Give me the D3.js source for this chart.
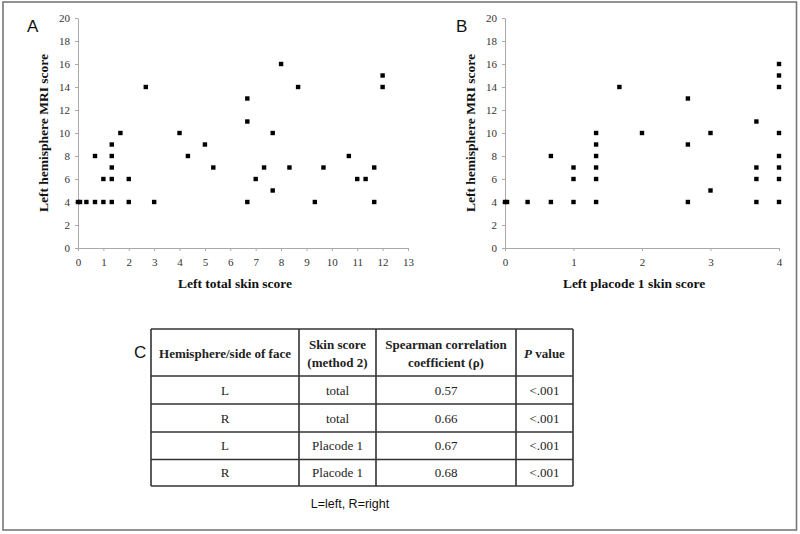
<!DOCTYPE html>
<html>
<head>
<meta charset="utf-8" />
<title>Skin score vs MRI score</title>
<script src="https://cdn.jsdelivr.net/npm/d3@7"></script>
<style>
    body { margin: 0; background: #fff; }
    svg { display: block; }
    .axis path, .axis line { stroke: #aaa; }
    .ttl { font-family: "Liberation Serif", serif; font-weight: bold; font-size: 13.5px; fill: #111; }
    .panel { font-family: "Liberation Sans", sans-serif; font-size: 17px; fill: #111; }
    .cell { font-family: "Liberation Serif", serif; font-size: 13px; fill: #222; }
</style>
</head>
<body>
<script>
    // panel A: left total skin score vs left hemisphere MRI score
    var totalX = [0, 0.08, 0.33, 0.67, 0.67, 1, 1, 1.33, 1.33, 1.33, 1.33, 1.33, 1.67, 2, 2, 2.67, 3,
        4, 4.33, 5, 5.33, 6.67, 6.67, 6.67, 7, 7.33, 7.67, 7.67, 8, 8.33, 8.67, 9.33, 9.67,
        10.67, 11, 11.33, 11.67, 11.67, 12, 12]
    var totalY = [4, 4, 4, 8, 4, 6, 4, 9, 8, 7, 6, 4, 10, 6, 4, 14, 4,
        10, 8, 9, 7, 13, 11, 4, 6, 7, 10, 5, 16, 7, 14, 4, 7,
        8, 6, 6, 7, 4, 15, 14]
    // panel B: left placode 1 skin score vs left hemisphere MRI score
    var placodeX = [0, 0.03, 0.33, 0.67, 0.67, 1, 1, 1, 1.33, 1.33, 1.33, 1.33, 1.33, 1.33,
        1.67, 2, 2.67, 2.67, 2.67, 3, 3, 3.67, 3.67, 3.67, 3.67,
        4, 4, 4, 4, 4, 4, 4, 4]
    var placodeY = [4, 4, 4, 8, 4, 7, 6, 4, 10, 9, 8, 7, 6, 4,
        14, 10, 13, 9, 4, 10, 5, 11, 7, 6, 4,
        16, 15, 14, 10, 8, 7, 6, 4]
    var yTicks = [0, 2, 4, 6, 8, 10, 12, 14, 16, 18, 20]
    var totalTicks = [0, 1, 2, 3, 4, 5, 6, 7, 8, 9, 10, 11, 12, 13]
    var placodeTicks = [0, 1, 2, 3, 4]

    // panel C table
    var headers = [["Hemisphere/side of face"], ["Skin score", "(method 2)"], ["Spearman correlation", "coefficient (\u03c1)"], ["P value"]]
    var hemisphere = ["L", "R", "L", "R"]
    var skinScore = ["total", "total", "Placode 1", "Placode 1"]
    var rho = ["0.57", "0.66", "0.67", "0.68"]
    var pValue = ["<.001", "<.001", "<.001", "<.001"]

    var W = 800, H = 534
    var svg = d3.select("body").append("svg").attr("width", W).attr("height", H)

    svg.append("rect").attr("x", 3).attr("y", 2).attr("width", 793.5).attr("height", 528)
        .attr("fill", "none").attr("stroke", "#777").attr("stroke-width", 1.6)

    var y = d3.scaleLinear().domain([0, 20]).range([248, 18])

    function styleAxis(sel) {
        sel.attr("font-family", "Liberation Serif, serif").attr("font-size", 11)
        sel.selectAll("text").attr("fill", "#333")
        sel.select(".domain").attr("stroke", "#aaa")
        sel.selectAll(".tick line").attr("stroke", "#aaa")
    }

    function scatter(xs, ys, x, xTicks, axisX, xTitle, label, labelX) {
        var g = svg.append("g")
        g.append("g").attr("class", "axis").attr("transform", "translate(" + axisX + ",0)")
            .call(d3.axisLeft(y).tickValues(yTicks).tickFormat(d3.format("d")).tickSize(3).tickSizeOuter(0).tickPadding(5))
            .call(styleAxis)
        g.append("g").attr("class", "axis").attr("transform", "translate(0,248)")
            .call(d3.axisBottom(x).tickValues(xTicks).tickFormat(d3.format("d")).tickSize(3).tickSizeOuter(0).tickPadding(7))
            .call(styleAxis)
        var pts = xs.map((v, i) => ({ x: v, y: ys[i] }))
        g.selectAll(".pt").data(pts).enter().append("rect").attr("class", "pt")
            .attr("x", d => x(d.x) - 2.2).attr("y", d => y(d.y) - 2.2)
            .attr("width", 4.4).attr("height", 4.4).attr("fill", "#000")
        g.append("text").attr("class", "ttl").attr("text-anchor", "middle")
            .attr("transform", "translate(" + (axisX - 30) + "," + 133 + ") rotate(-90)")
            .text("Left hemisphere MRI score")
        var r = x.range()
        g.append("text").attr("class", "ttl").attr("text-anchor", "middle")
            .attr("x", (r[0] + r[1]) / 2 - 8).attr("y", 288).text(xTitle)
        g.append("text").attr("class", "panel").attr("x", labelX).attr("y", 32).text(label)
    }

    scatter(totalX, totalY, d3.scaleLinear().domain([0, 13]).range([78, 408]), totalTicks, 78,
        "Left total skin score", "A", 27)
    scatter(placodeX, placodeY, d3.scaleLinear().domain([0, 4]).range([505, 779]), placodeTicks, 505,
        "Left placode 1 skin score", "B", 456)

    // table
    var cols = [151, 299, 376, 516, 573]
    var rowsY = [329, 376, 404, 432, 459.5, 486]
    var t = svg.append("g")
    t.append("text").attr("class", "panel").attr("x", 134).attr("y", 358).text("C")
    cols.forEach(c => t.append("line").attr("x1", c).attr("x2", c).attr("y1", rowsY[0]).attr("y2", rowsY[5])
        .attr("stroke", "#333").attr("stroke-width", 1.6))
    rowsY.forEach(r => t.append("line").attr("x1", cols[0]).attr("x2", cols[4]).attr("y1", r).attr("y2", r)
        .attr("stroke", "#333").attr("stroke-width", 1.6))

    headers.forEach(function (lines, i) {
        var cx = (cols[i] + cols[i + 1]) / 2
        var top = (rowsY[0] + rowsY[1]) / 2 - (lines.length - 1) * 9 + 5
        lines.forEach(function (line, j) {
            var tx = t.append("text").attr("class", "cell").attr("font-weight", "bold")
                .attr("text-anchor", "middle").attr("x", cx).attr("y", top + j * 18)
            if (line == "P value") {
                tx.append("tspan").attr("font-style", "italic").text("P")
                tx.append("tspan").text(" value")
            } else {
                tx.text(line)
            }
        })
    })
    var body = hemisphere.map((h, i) => [h, skinScore[i], rho[i], pValue[i]])
    body.forEach(function (row, r) {
        var cy = (rowsY[r + 1] + rowsY[r + 2]) / 2 + 4.5
        row.forEach(function (v, i) {
            t.append("text").attr("class", "cell").attr("text-anchor", "middle")
                .attr("x", (cols[i] + cols[i + 1]) / 2).attr("y", cy).text(v)
        })
    })
    t.append("text").attr("x", 350).attr("y", 508).attr("text-anchor", "middle")
        .attr("font-family", "Liberation Sans, sans-serif").attr("font-size", "12.5px").attr("fill", "#111")
        .text("L=left, R=right")
</script>
</body>
</html>
